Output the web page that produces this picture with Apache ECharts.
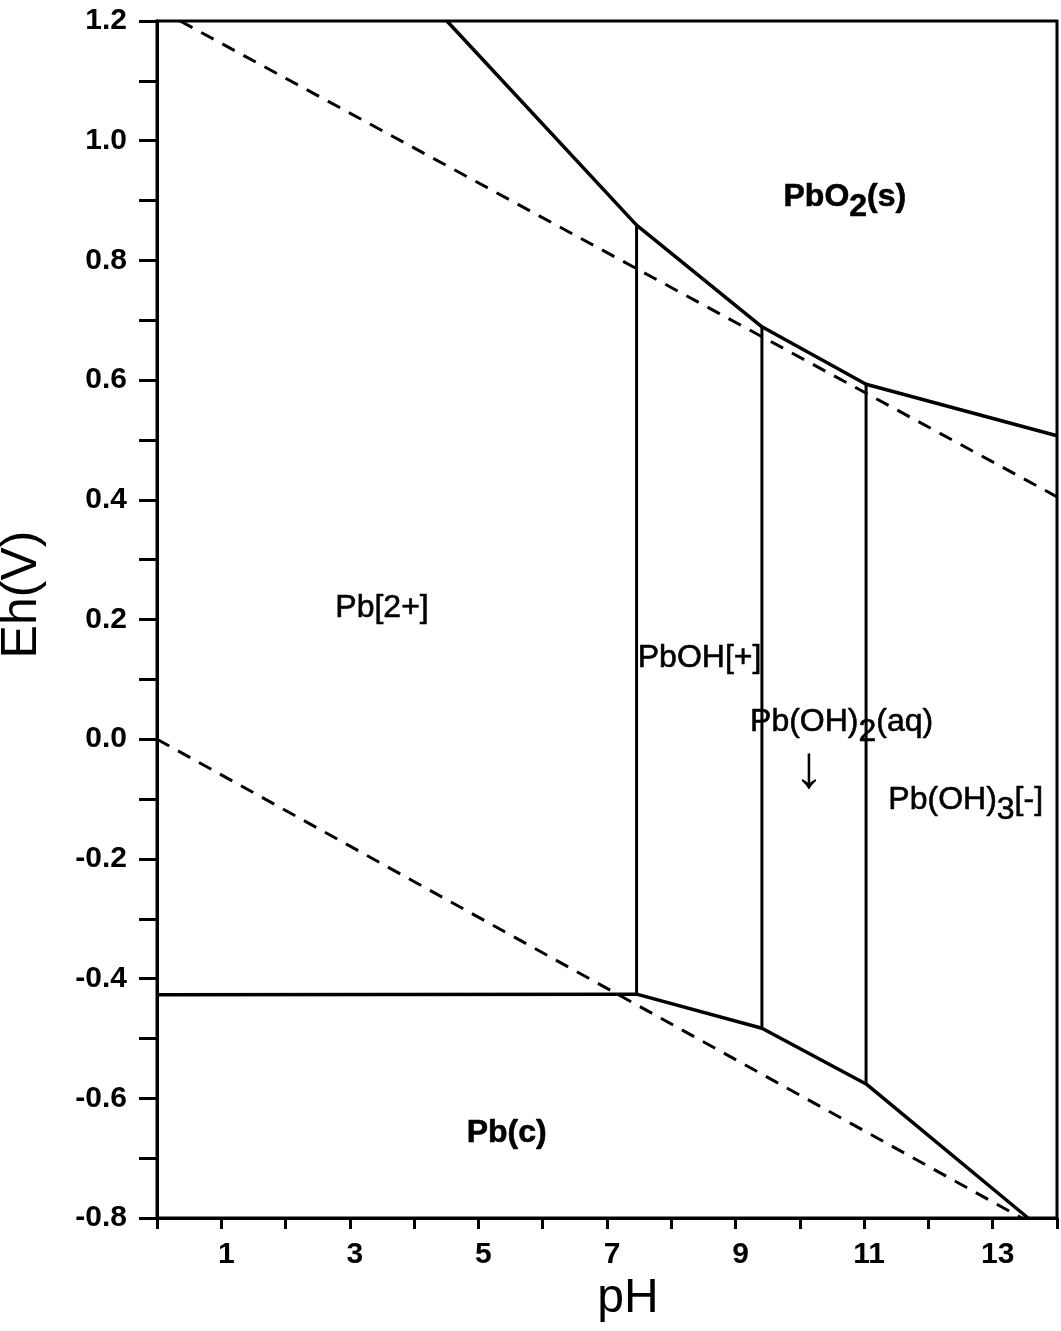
<!DOCTYPE html>
<html><head><meta charset="utf-8">
<script src="https://cdn.jsdelivr.net/npm/echarts@6/dist/echarts.min.js"></script>
<style>html,body{margin:0;padding:0;background:#fff}#c{width:1061px;height:1331px}</style>
</head><body><div id="c"></div>
<script>
const FONT = "'Liberation Sans', Arial, Helvetica, sans-serif";

// Solid stability-field boundaries [pH, Eh(V)]
const upperBoundary = [[4.51, 1.2], [7.46, 0.859], [9.41, 0.689], [11.03, 0.593], [14, 0.507]];
const lowerBoundary = [[0, -0.427], [7.46, -0.426], [9.41, -0.483], [11.03, -0.576], [13.55, -0.8]];
// Vertical boundaries between dissolved species
const verticalPH = [7.46, 9.41, 11.03];
const verticalTop = [0.859, 0.689, 0.593];
const verticalBottom = [-0.426, -0.483, -0.576];
// Water stability limits (dashed)
const waterUpper = [[0.36, 1.2], [14, 0.405]];
const waterLower = [[0, 0.0], [13.45, -0.8]];

// Field labels
const labelText = ['{b|PbO}{bs|2}{b|(s)}', 'Pb[2+]', 'PbOH[+]', '{n|Pb(OH)}{ns|2}{n|(aq)}', '\u2193', '{n|Pb(OH)}{ns|3}{n|[-]}', 'Pb(c)'];
const labelPH = [10.70, 3.50, 8.44, 10.65, 10.14, 12.58, 5.44];
const labelEh = [0.906, 0.219, 0.136, 0.029, -0.053, -0.102, -0.658];
const labelBold = [true, false, false, false, false, false, true];
const labelRich = [true, false, false, true, false, true, false];

// Axes
const xMin = 0, xMax = 14, xStep = 1;
const yMin = -0.8, yMax = 1.2, yStep = 0.2;

const black = '#000';
const series = [];
const solid = {color: black, width: 3.5, type: 'solid'};
series.push({type: 'line', data: upperBoundary, symbol: 'none', lineStyle: solid, silent: true});
series.push({type: 'line', data: lowerBoundary, symbol: 'none', lineStyle: solid, silent: true});
verticalPH.forEach((p, i) => {
  series.push({type: 'line', data: [[p, verticalTop[i]], [p, verticalBottom[i]]], symbol: 'none',
    lineStyle: {color: black, width: 3}, silent: true});
});
const dashed = {color: black, width: 3, type: [14, 10]};
series.push({type: 'line', data: waterUpper, symbol: 'none', lineStyle: dashed, silent: true});
series.push({type: 'line', data: waterLower, symbol: 'none', lineStyle: dashed, silent: true});

const tb = {textBorderColor: black, textBorderWidth: 0.6, opacity: 1};
const rich = {
  b: Object.assign({fontFamily: FONT, fontSize: 32, fontWeight: 'bold', color: black, verticalAlign: 'top'}, tb),
  bs: Object.assign({fontFamily: FONT, fontSize: 32, fontWeight: 'bold', color: black, verticalAlign: 'top', padding: [10, 0, 0, 0]}, tb),
  n: Object.assign({fontFamily: FONT, fontSize: 32, color: black, verticalAlign: 'top'}, tb),
  ns: Object.assign({fontFamily: FONT, fontSize: 32, color: black, verticalAlign: 'top', padding: [10, 0, 0, 0]}, tb)
};
series.push({
  type: 'scatter', symbolSize: 0, silent: true, z: 5,
  itemStyle: {opacity: 1, color: black},
  data: labelText.map((t, i) => ({
    value: [labelPH[i], labelEh[i]],
    label: Object.assign({
      show: true, position: 'inside',
      formatter: () => t,
      fontFamily: FONT,
      fontSize: t === '\u2193' ? 60 : 32,
      fontWeight: labelBold[i] ? 'bold' : 'normal',
      color: black,
      offset: labelRich[i] ? [0, 5] : [0, 0],
      rich: labelRich[i] ? rich : undefined
    }, t === '\u2193' ? {opacity: 1} : tb)
  }))
});

const option = {
  animation: false,
  backgroundColor: '#fff',
  grid: {left: 157, right: 4, top: 21, bottom: 113, show: true, borderColor: black, borderWidth: 3,
    containLabel: false, outerBoundsMode: 'none'},
  xAxis: {
    type: 'value', min: xMin, max: xMax, interval: xStep,
    axisLine: {show: true, onZero: false, lineStyle: {color: black, width: 3}},
    axisTick: {show: true, length: 11, lineStyle: {color: black, width: 3}},
    splitLine: {show: false},
    axisLabel: {
      margin: 22, fontFamily: FONT, fontSize: 30, fontWeight: 'bold', color: black, padding: [0, 0, 0, 10],
      formatter: v => (Math.round(v) % 2 === 1 ? String(Math.round(v)) : '')
    },
    name: 'pH', nameLocation: 'middle', nameGap: 56,
    nameTextStyle: {fontFamily: FONT, fontSize: 48, color: black, padding: [0, 0, 0, 42]}
  },
  yAxis: {
    type: 'value', min: yMin, max: yMax, interval: yStep,
    axisLine: {show: true, onZero: false, lineStyle: {color: black, width: 3}},
    axisTick: {show: true, length: 18, lineStyle: {color: black, width: 3}},
    minorTick: {show: true, splitNumber: 2, length: 18, lineStyle: {color: black, width: 3}},
    splitLine: {show: false},
    minorSplitLine: {show: false},
    axisLabel: {
      margin: 30, fontFamily: FONT, fontSize: 30, fontWeight: 'bold', color: black,
      formatter: v => (Math.abs(v) < 1e-9 ? '0.0' : v.toFixed(1))
    },
    name: 'Eh(V)', nameLocation: 'middle', nameGap: 110,
    nameTextStyle: {fontFamily: FONT, fontSize: 50, color: black, padding: [0, 0, 0, 50]}
  },
  series: series
};
const chart = echarts.init(document.getElementById('c'), null, {renderer: 'canvas'});
chart.setOption(option);
</script>
</body></html>
